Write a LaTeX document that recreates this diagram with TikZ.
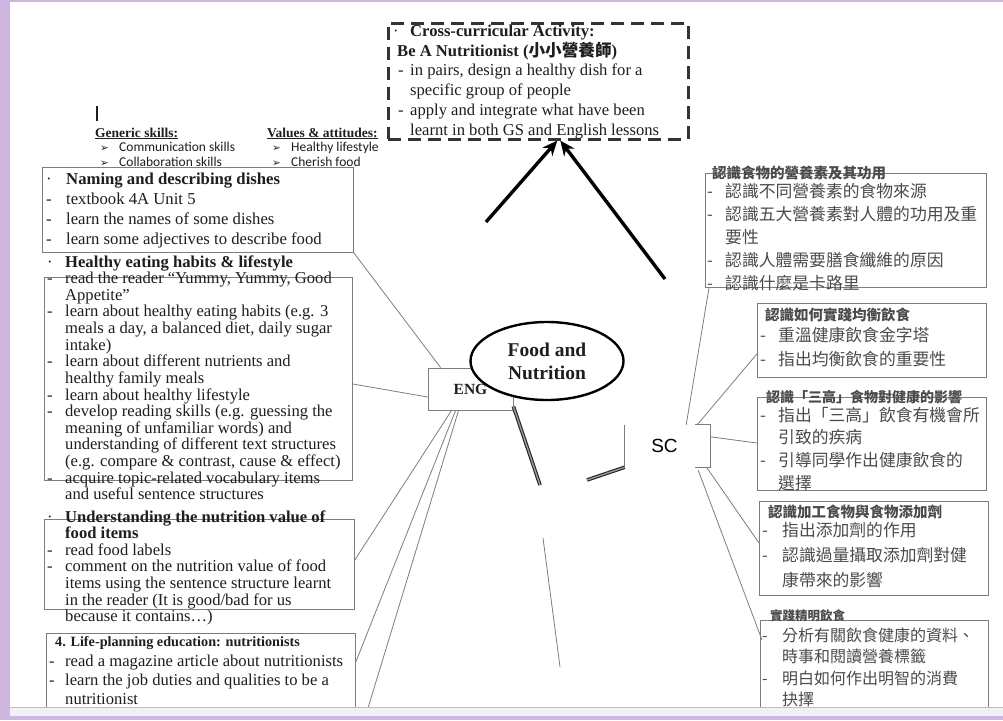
\documentclass[tikz,border=0pt]{standalone}
\usepackage{fontspec}
\setmainfont{Liberation Serif}
\newfontfamily\cjk{Noto Sans CJK TC}
\newfontfamily\calfont{Carlito}
\newfontfamily\arialf{Liberation Sans}
\newfontfamily\djv{DejaVu Sans}
\usetikzlibrary{shapes.geometric,arrows.meta,calc}
\definecolor{purp}{RGB}{205,182,224}
\definecolor{boxgray}{RGB}{125,125,125}
\definecolor{ink}{RGB}{30,30,30}
\definecolor{cjkink}{RGB}{75,75,75}
\definecolor{bandgray}{RGB}{241,240,245}
\newcommand\dsh[1]{\makebox[#1][l]{-}}
\newcommand\ind[1]{\hspace*{#1}}
\newcommand\fs[2]{\fontsize{#1}{#2}\selectfont}
\newcommand\lines[1]{\begin{tabular}[t]{@{}l@{}}#1\end{tabular}}
\newcommand\arw{\makebox[19pt][l]{\djv\fontsize{10.5}{10.5}\selectfont ➢}}
\tikzset{
  txt/.style={anchor=base west, inner sep=0pt, text=ink},
  ctxt/.style={anchor=base west, inner sep=0pt, text=cjkink},
  box/.style={draw=boxgray, line width=0.8pt, inner sep=0pt, anchor=north west},
  conn/.style={draw=boxgray, line width=0.8pt},
  dbl/.style={draw=black!85, line width=1.1pt, double=black!40, double distance=1.4pt},
  arr/.style={line width=3.4pt, black, -{Stealth[length=15pt,width=13pt,inset=5pt]}}
}
\begin{document}
\begin{tikzpicture}[x=1pt,y=-1pt]
\useasboundingbox (0,0) rectangle (1003,720);
\fill[purp] (0,0) rectangle (1003,720);
\fill[white] (10,2) rectangle (1003,707.5);

% cursor mark
\draw[line width=2.4pt, ink] (97,106) -- (97,121);

% generic skills / values
\node[txt, font=\bfseries\fs{13.5}{16}] (gsh) at (95,137) {\underline{Generic skills:}};
\node[txt, font=\calfont\fs{13.5}{15}] (gs1) at (100,151) {\arw Communication skills};
\node[txt, font=\calfont\fs{13.5}{15}] (gs2) at (100,166) {\arw Collaboration skills};
\node[txt, font=\bfseries\fs{13.5}{16}] (vah) at (267,137) {\underline{Values \& attitudes:}};
\node[txt, font=\calfont\fs{13.5}{15}] (va1) at (272,151) {\arw Healthy lifestyle};
\node[txt, font=\calfont\fs{13.5}{15}] (va2) at (272,166) {\arw Cherish food};

% cross-curricular box
\node[box, draw=black!80, line width=2.6pt, dash pattern=on 13pt off 7pt,
      minimum width=300pt, minimum height=116pt] (act) at (387,22) {};
\node[txt, font=\fs{16.6}{19.8}] (actt) at (393,36) {\lines{%
\makebox[17pt][l]{·}\textbf{Cross-curricular Activity:}\\
\ind{4pt}\textbf{Be A Nutritionist ({\cjk\bfseries 小小營養師})}\\
\ind{5pt}\dsh{12pt}in pairs, design a healthy dish for a\\
\ind{17pt}specific group of people\\
\ind{5pt}\dsh{12pt}apply and integrate what have been\\
\ind{17pt}learnt in both GS and English lessons}};

% arrows
\coordinate (a1) at (486,222);
\coordinate (a2) at (665,279);
\draw[arr] (a1) -- ($(act.south)+(19,0)$);
\draw[arr] (a2) -- ($(act.south)+(22,0)$);

% left boxes
\node[box, fill=white, minimum width=311pt, minimum height=85pt] (b1) at (42,167) {};
\node[txt, font=\fs{16.7}{20}] (t1) at (46,184.5) {\lines{%
\makebox[20pt][l]{·}\textbf{Naming and describing dishes}\\
\dsh{20pt}textbook 4A Unit 5\\
\dsh{20pt}learn the names of some dishes\\
\dsh{20pt}learn some adjectives to describe food}};

\node[box, minimum width=308pt, minimum height=203pt] (b2) at (44,277) {};
\node[txt, font=\fs{16.6}{16.6}] (t2) at (47,267) {\lines{%
\makebox[18pt][l]{·}\textbf{Healthy eating habits \& lifestyle}\\
\dsh{18pt}read the reader “Yummy, Yummy, Good\\
\ind{18pt}Appetite”\\
\dsh{18pt}learn about healthy eating habits (e.g. 3\\
\ind{18pt}meals a day, a balanced diet, daily sugar\\
\ind{18pt}intake)\\
\dsh{18pt}learn about different nutrients and\\
\ind{18pt}healthy family meals\\
\dsh{18pt}learn about healthy lifestyle\\
\dsh{18pt}develop reading skills (e.g. guessing the\\
\ind{18pt}meaning of unfamiliar words) and\\
\ind{18pt}understanding of different text structures\\
\ind{18pt}(e.g. compare \& contrast, cause \& effect)\\
\dsh{18pt}acquire topic-related vocabulary items\\
\ind{18pt}and useful sentence structures}};

\node[box, minimum width=310pt, minimum height=90pt] (b3) at (44,519) {};
\node[txt, font=\fs{16.6}{16.5}] (t3) at (47,522) {\lines{%
\makebox[18pt][l]{·}\textbf{Understanding the nutrition value of}\\
\ind{18pt}\textbf{food items}\\
\dsh{18pt}read food labels\\
\dsh{18pt}comment on the nutrition value of food\\
\ind{18pt}items using the sentence structure learnt\\
\ind{18pt}in the reader (It is good/bad for us\\
\ind{18pt}because it contains…)}};

\node[box, minimum width=309pt, minimum height=76pt] (b4) at (46,633) {};
\node[txt, font=\bfseries\fs{14.2}{16}] (t4h) at (55,646) {4. Life-planning education: nutritionists};
\node[txt, font=\fs{16.6}{19}] (t4) at (49,666) {\lines{%
\dsh{16pt}read a magazine article about nutritionists\\
\dsh{16pt}learn the job duties and qualities to be a\\
\ind{16pt}nutritionist}};

% right boxes
\node[box, minimum width=281pt, minimum height=114pt] (r1) at (705,173) {};
\node[ctxt, font=\cjk\bfseries\fs{14.5}{16}] (r1h) at (712,178) {認識食物的營養素及其功用};
\node[ctxt, font=\cjk\fs{16.8}{23}] (r1t) at (707,197) {\lines{%
\dsh{18pt}認識不同營養素的食物來源\\
\dsh{18pt}認識五大營養素對人體的功用及重\\
\ind{18pt}要性\\
\dsh{18pt}認識人體需要膳食纖維的原因\\
\dsh{18pt}認識什麼是卡路里}};

\node[box, minimum width=229pt, minimum height=74pt] (r2) at (757,303) {};
\node[ctxt, font=\cjk\bfseries\fs{14.5}{16}] (r2h) at (765,320) {認識如何實踐均衡飲食};
\node[ctxt, font=\cjk\fs{16.8}{24}] (r2t) at (760,341) {\lines{%
\dsh{18pt}重溫健康飲食金字塔\\
\dsh{18pt}指出均衡飲食的重要性}};

\node[box, minimum width=229pt, minimum height=93pt] (r3) at (757,397) {};
\node[ctxt, font=\cjk\bfseries\fs{14}{16}] (r3h) at (766,402) {認識「三高」食物對健康的影響};
\node[ctxt, font=\cjk\fs{16.8}{22.7}] (r3t) at (760,421) {\lines{%
\dsh{18pt}指出「三高」飲食有機會所\\
\ind{18pt}引致的疾病\\
\dsh{18pt}引導同學作出健康飲食的\\
\ind{18pt}選擇}};

\node[box, minimum width=229pt, minimum height=94pt] (r4) at (759,501) {};
\node[ctxt, font=\cjk\bfseries\fs{14.5}{16}] (r4h) at (768,517) {認識加工食物與食物添加劑};
\node[ctxt, font=\cjk\fs{16.8}{25}] (r4t) at (762,536) {\lines{%
\dsh{20pt}指出添加劑的作用\\
\dsh{20pt}認識過量攝取添加劑對健\\
\ind{20pt}康帶來的影響}};

\node[box, minimum width=228pt, minimum height=90pt] (r5) at (760,620) {};
\node[ctxt, font=\cjk\bfseries\fs{12.5}{16}] (r5h) at (770,620) {實踐精明飲食};
\node[ctxt, font=\cjk\fs{16}{21.5}] (r5t) at (762,641) {\lines{%
\dsh{20pt}分析有關飲食健康的資料、\\
\ind{20pt}時事和閱讀營養標籤\\
\dsh{20pt}明白如何作出明智的消費\\
\ind{20pt}抉擇}};

% centre nodes
\node[draw=boxgray, line width=0.8pt, fill=white, minimum width=85pt, minimum height=42pt,
      inner sep=0pt, font=\bfseries\fs{15.5}{16}, text=ink] (eng) at (470.5,389) {ENG};
\node[ellipse, draw=black, line width=2.4pt, fill=white, minimum width=153pt, minimum height=78pt,
      inner sep=0pt, align=center, font=\bfseries\fs{19.5}{23}, text=ink] (fn) at (547,361) {Food and\\Nutrition};
\node[inner sep=0pt, minimum width=85pt, minimum height=42pt, font=\arialf\fs{19}{19}] (sc) at (667.5,446) {SC\hspace*{6pt}};
\draw[conn] (sc.north west) -- (sc.south west);
\draw[conn] ($(sc.north east)+(-15,0)$) -- (sc.north east) -- (sc.south east) -- ++(-15,0);

% connectors from ENG
\coordinate (e5) at (368,708);
\draw[conn] ($(eng.north west)+(13,0)$) -- (b1.south east);
\draw[conn] ($(eng.west)+(0,8)$) -- ($(b2.north east)+(0,107)$);
\draw[conn] ($(eng.south west)+(24,0)$) -- ($(b3.north east)+(0,41)$);
\draw[conn] ($(eng.south west)+(28,0)$) -- ($(b4.north east)+(0,29)$);
\draw[conn] ($(eng.south west)+(31,0)$) -- (e5);

% connectors from SC
\draw[conn] ($(sc.north east)+(-24,0)$) -- ($(r1.south west)+(4,0)$);
\draw[conn] ($(sc.north east)+(-13,0)$) -- ($(r2.south west)+(0,-24)$);
\draw[conn] ($(sc.north east)+(0,12)$) -- ($(r3.north west)+(0,46)$);
\draw[conn] ($(sc.south east)+(-3,1)$) -- ($(r4.north west)+(0,42)$);
\draw[conn] ($(sc.south east)+(-12,3)$) -- ($(r5.north west)+(2,20)$);

% double lines and thin line
\coordinate (d1) at (540,485);
\coordinate (d2) at (587,480);
\coordinate (m1) at (543,538);
\coordinate (m2) at (560,667);
\draw[dbl] ($(eng.south east)+(0,-4)$) -- (d1);
\draw[dbl] (sc.south west) -- (d2);
\draw[conn] (m1) -- (m2);

% page bottom band and frame
\fill[bandgray] (10,707.5) rectangle (1003,716);
\draw[black!25, line width=0.8pt] (10,707.5) -- (1003,707.5);
\fill[purp] (0,716) rectangle (1003,720);
\fill[purp] (0,0) rectangle (10,720);
\fill[purp] (0,0) rectangle (1003,2);
\end{tikzpicture}
\end{document}
